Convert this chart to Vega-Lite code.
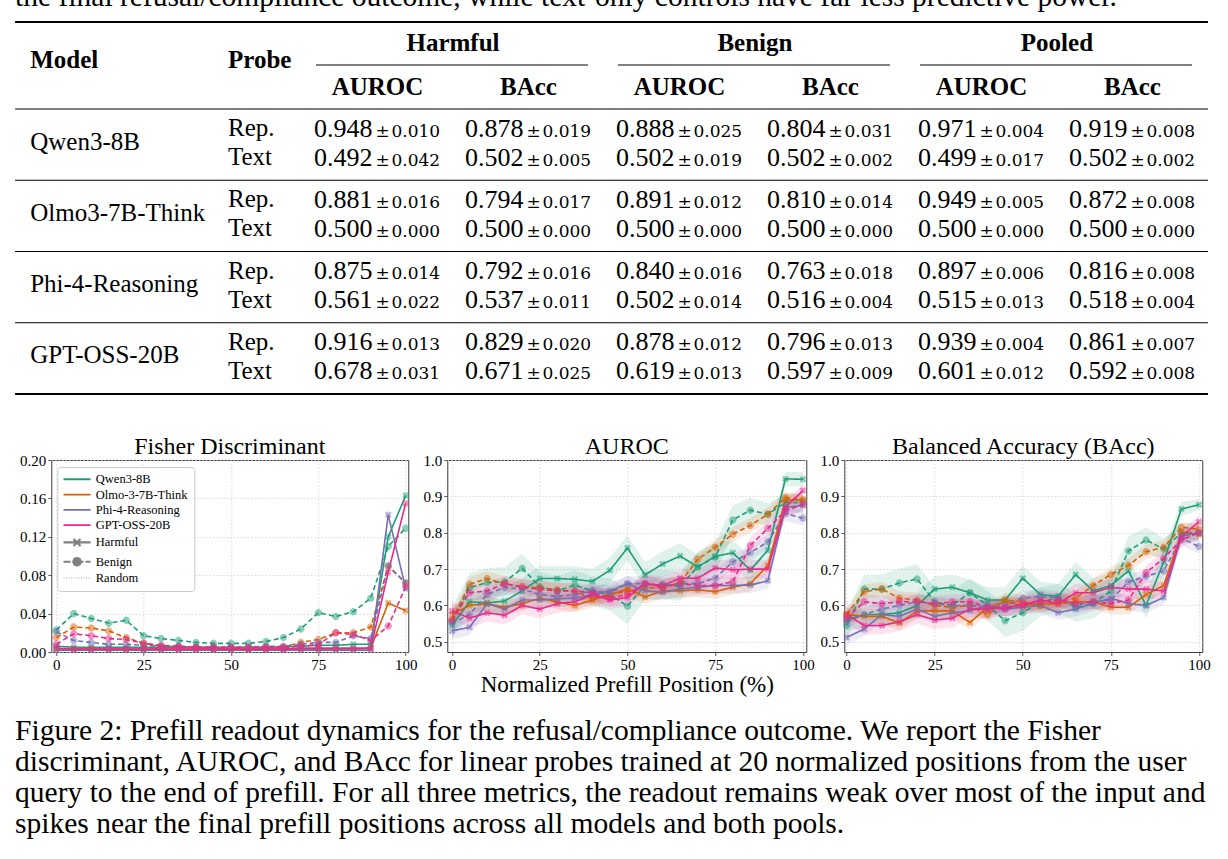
{
"$schema":"https://vega.github.io/schema/vega-lite/v6.json",
"background":"white",
"padding":0,
"spacing":0,
"center":true,
"resolve":{"scale":{"color":"independent","shape":"independent","strokeDash":"independent"},"legend":{"color":"independent"}},
"config":{
 "view":{"stroke":null},
 "font":"Liberation Serif",
 "axisBand":{"disable":true},
 "axis":{"labelFont":"Liberation Serif","labelFontSize":15,"labelColor":"#000","tickColor":"#333","tickSize":3.5,"tickWidth":0.8,"labelPadding":2,"domain":false,"gridColor":"#cfcfcf","gridDash":[1.5,2],"gridWidth":0.8,"titleFont":"Liberation Serif","titleFontSize":23,"titleFontWeight":"normal","titleColor":"#000","titlePadding":1,"labelOverlap":false},
 "title":{"font":"Liberation Serif","fontSize":24,"fontWeight":"normal","color":"#000","offset":4,"baseline":"alphabetic","frame":"group"}
},
"datasets":{
 "prev":[{"t":"the final refusal/compliance outcome, while text-only controls have far less predictive power."}],
 "groups":[{"g":"Harmful","c1":"HA","c2":"HB"},{"g":"Benign","c1":"BA","c2":"BB"},{"g":"Pooled","c1":"PA","c2":"PB"}],
 "metrics":[{"t":"AUROC","col":"HA"},{"t":"BAcc","col":"HB"},{"t":"AUROC","col":"BA"},{"t":"BAcc","col":"BB"},{"t":"AUROC","col":"PA"},{"t":"BAcc","col":"PB"}],
 "models":[{"model":"Qwen3-8B"},{"model":"Olmo3-7B-Think"},{"model":"Phi-4-Reasoning"},{"model":"GPT-OSS-20B"}],
 "probes":[{"model":"Qwen3-8B","probe":"Rep."},{"model":"Qwen3-8B","probe":"Text"},{"model":"Olmo3-7B-Think","probe":"Rep."},{"model":"Olmo3-7B-Think","probe":"Text"},{"model":"Phi-4-Reasoning","probe":"Rep."},{"model":"Phi-4-Reasoning","probe":"Text"},{"model":"GPT-OSS-20B","probe":"Rep."},{"model":"GPT-OSS-20B","probe":"Text"}],
 "cells":[
  {"model":"Qwen3-8B","probe":"Rep.","col":"HA","v":0.948,"sd":0.010},{"model":"Qwen3-8B","probe":"Rep.","col":"HB","v":0.878,"sd":0.019},{"model":"Qwen3-8B","probe":"Rep.","col":"BA","v":0.888,"sd":0.025},{"model":"Qwen3-8B","probe":"Rep.","col":"BB","v":0.804,"sd":0.031},{"model":"Qwen3-8B","probe":"Rep.","col":"PA","v":0.971,"sd":0.004},{"model":"Qwen3-8B","probe":"Rep.","col":"PB","v":0.919,"sd":0.008},
  {"model":"Qwen3-8B","probe":"Text","col":"HA","v":0.492,"sd":0.042},{"model":"Qwen3-8B","probe":"Text","col":"HB","v":0.502,"sd":0.005},{"model":"Qwen3-8B","probe":"Text","col":"BA","v":0.502,"sd":0.019},{"model":"Qwen3-8B","probe":"Text","col":"BB","v":0.502,"sd":0.002},{"model":"Qwen3-8B","probe":"Text","col":"PA","v":0.499,"sd":0.017},{"model":"Qwen3-8B","probe":"Text","col":"PB","v":0.502,"sd":0.002},
  {"model":"Olmo3-7B-Think","probe":"Rep.","col":"HA","v":0.881,"sd":0.016},{"model":"Olmo3-7B-Think","probe":"Rep.","col":"HB","v":0.794,"sd":0.017},{"model":"Olmo3-7B-Think","probe":"Rep.","col":"BA","v":0.891,"sd":0.012},{"model":"Olmo3-7B-Think","probe":"Rep.","col":"BB","v":0.810,"sd":0.014},{"model":"Olmo3-7B-Think","probe":"Rep.","col":"PA","v":0.949,"sd":0.005},{"model":"Olmo3-7B-Think","probe":"Rep.","col":"PB","v":0.872,"sd":0.008},
  {"model":"Olmo3-7B-Think","probe":"Text","col":"HA","v":0.500,"sd":0.000},{"model":"Olmo3-7B-Think","probe":"Text","col":"HB","v":0.500,"sd":0.000},{"model":"Olmo3-7B-Think","probe":"Text","col":"BA","v":0.500,"sd":0.000},{"model":"Olmo3-7B-Think","probe":"Text","col":"BB","v":0.500,"sd":0.000},{"model":"Olmo3-7B-Think","probe":"Text","col":"PA","v":0.500,"sd":0.000},{"model":"Olmo3-7B-Think","probe":"Text","col":"PB","v":0.500,"sd":0.000},
  {"model":"Phi-4-Reasoning","probe":"Rep.","col":"HA","v":0.875,"sd":0.014},{"model":"Phi-4-Reasoning","probe":"Rep.","col":"HB","v":0.792,"sd":0.016},{"model":"Phi-4-Reasoning","probe":"Rep.","col":"BA","v":0.840,"sd":0.016},{"model":"Phi-4-Reasoning","probe":"Rep.","col":"BB","v":0.763,"sd":0.018},{"model":"Phi-4-Reasoning","probe":"Rep.","col":"PA","v":0.897,"sd":0.006},{"model":"Phi-4-Reasoning","probe":"Rep.","col":"PB","v":0.816,"sd":0.008},
  {"model":"Phi-4-Reasoning","probe":"Text","col":"HA","v":0.561,"sd":0.022},{"model":"Phi-4-Reasoning","probe":"Text","col":"HB","v":0.537,"sd":0.011},{"model":"Phi-4-Reasoning","probe":"Text","col":"BA","v":0.502,"sd":0.014},{"model":"Phi-4-Reasoning","probe":"Text","col":"BB","v":0.516,"sd":0.004},{"model":"Phi-4-Reasoning","probe":"Text","col":"PA","v":0.515,"sd":0.013},{"model":"Phi-4-Reasoning","probe":"Text","col":"PB","v":0.518,"sd":0.004},
  {"model":"GPT-OSS-20B","probe":"Rep.","col":"HA","v":0.916,"sd":0.013},{"model":"GPT-OSS-20B","probe":"Rep.","col":"HB","v":0.829,"sd":0.020},{"model":"GPT-OSS-20B","probe":"Rep.","col":"BA","v":0.878,"sd":0.012},{"model":"GPT-OSS-20B","probe":"Rep.","col":"BB","v":0.796,"sd":0.013},{"model":"GPT-OSS-20B","probe":"Rep.","col":"PA","v":0.939,"sd":0.004},{"model":"GPT-OSS-20B","probe":"Rep.","col":"PB","v":0.861,"sd":0.007},
  {"model":"GPT-OSS-20B","probe":"Text","col":"HA","v":0.678,"sd":0.031},{"model":"GPT-OSS-20B","probe":"Text","col":"HB","v":0.671,"sd":0.025},{"model":"GPT-OSS-20B","probe":"Text","col":"BA","v":0.619,"sd":0.013},{"model":"GPT-OSS-20B","probe":"Text","col":"BB","v":0.597,"sd":0.009},{"model":"GPT-OSS-20B","probe":"Text","col":"PA","v":0.601,"sd":0.012},{"model":"GPT-OSS-20B","probe":"Text","col":"PB","v":0.592,"sd":0.008}
 ],
 "caption":[
  {"n":"1","t":"Figure 2: Prefill readout dynamics for the refusal/compliance outcome.  We report the Fisher"},
  {"n":"2","t":"discriminant, AUROC, and BAcc for linear probes trained at 20 normalized positions from the user"},
  {"n":"3","t":"query to the end of prefill. For all three metrics, the readout remains weak over most of the input and"},
  {"n":"4","t":"spikes near the final prefill positions across all models and both pools."}
 ],
 "fisher":[
  {"m":"Q","p":"H","x":0,"v":0.006},{"m":"Q","p":"H","x":5,"v":0.005},{"m":"Q","p":"H","x":10,"v":0.005},{"m":"Q","p":"H","x":15,"v":0.005},{"m":"Q","p":"H","x":20,"v":0.005},{"m":"Q","p":"H","x":25,"v":0.005},{"m":"Q","p":"H","x":30,"v":0.005},{"m":"Q","p":"H","x":35,"v":0.005},{"m":"Q","p":"H","x":40,"v":0.005},{"m":"Q","p":"H","x":45,"v":0.005},{"m":"Q","p":"H","x":50,"v":0.005},{"m":"Q","p":"H","x":55,"v":0.005},{"m":"Q","p":"H","x":60,"v":0.005},{"m":"Q","p":"H","x":65,"v":0.005},{"m":"Q","p":"H","x":70,"v":0.006},{"m":"Q","p":"H","x":75,"v":0.007},{"m":"Q","p":"H","x":80,"v":0.007},{"m":"Q","p":"H","x":85,"v":0.008},{"m":"Q","p":"H","x":90,"v":0.008},{"m":"Q","p":"H","x":95,"v":0.12},{"m":"Q","p":"H","x":100,"v":0.163},
  {"m":"Q","p":"B","x":0,"v":0.023},{"m":"Q","p":"B","x":5,"v":0.04},{"m":"Q","p":"B","x":10,"v":0.035},{"m":"Q","p":"B","x":15,"v":0.03},{"m":"Q","p":"B","x":20,"v":0.033},{"m":"Q","p":"B","x":25,"v":0.017},{"m":"Q","p":"B","x":30,"v":0.014},{"m":"Q","p":"B","x":35,"v":0.012},{"m":"Q","p":"B","x":40,"v":0.01},{"m":"Q","p":"B","x":45,"v":0.009},{"m":"Q","p":"B","x":50,"v":0.009},{"m":"Q","p":"B","x":55,"v":0.009},{"m":"Q","p":"B","x":60,"v":0.011},{"m":"Q","p":"B","x":65,"v":0.015},{"m":"Q","p":"B","x":70,"v":0.024},{"m":"Q","p":"B","x":75,"v":0.041},{"m":"Q","p":"B","x":80,"v":0.037},{"m":"Q","p":"B","x":85,"v":0.042},{"m":"Q","p":"B","x":90,"v":0.056},{"m":"Q","p":"B","x":95,"v":0.11},{"m":"Q","p":"B","x":100,"v":0.129},
  {"m":"O","p":"H","x":0,"v":0.003},{"m":"O","p":"H","x":5,"v":0.003},{"m":"O","p":"H","x":10,"v":0.003},{"m":"O","p":"H","x":15,"v":0.003},{"m":"O","p":"H","x":20,"v":0.003},{"m":"O","p":"H","x":25,"v":0.003},{"m":"O","p":"H","x":30,"v":0.003},{"m":"O","p":"H","x":35,"v":0.003},{"m":"O","p":"H","x":40,"v":0.003},{"m":"O","p":"H","x":45,"v":0.003},{"m":"O","p":"H","x":50,"v":0.003},{"m":"O","p":"H","x":55,"v":0.003},{"m":"O","p":"H","x":60,"v":0.003},{"m":"O","p":"H","x":65,"v":0.003},{"m":"O","p":"H","x":70,"v":0.003},{"m":"O","p":"H","x":75,"v":0.003},{"m":"O","p":"H","x":80,"v":0.003},{"m":"O","p":"H","x":85,"v":0.003},{"m":"O","p":"H","x":90,"v":0.004},{"m":"O","p":"H","x":95,"v":0.051},{"m":"O","p":"H","x":100,"v":0.043},
  {"m":"O","p":"B","x":0,"v":0.015},{"m":"O","p":"B","x":5,"v":0.026},{"m":"O","p":"B","x":10,"v":0.025},{"m":"O","p":"B","x":15,"v":0.022},{"m":"O","p":"B","x":20,"v":0.015},{"m":"O","p":"B","x":25,"v":0.009},{"m":"O","p":"B","x":30,"v":0.006},{"m":"O","p":"B","x":35,"v":0.005},{"m":"O","p":"B","x":40,"v":0.005},{"m":"O","p":"B","x":45,"v":0.004},{"m":"O","p":"B","x":50,"v":0.004},{"m":"O","p":"B","x":55,"v":0.004},{"m":"O","p":"B","x":60,"v":0.005},{"m":"O","p":"B","x":65,"v":0.005},{"m":"O","p":"B","x":70,"v":0.01},{"m":"O","p":"B","x":75,"v":0.013},{"m":"O","p":"B","x":80,"v":0.02},{"m":"O","p":"B","x":85,"v":0.02},{"m":"O","p":"B","x":90,"v":0.026},{"m":"O","p":"B","x":95,"v":0.089},{"m":"O","p":"B","x":100,"v":0.072},
  {"m":"P","p":"H","x":0,"v":0.002},{"m":"P","p":"H","x":5,"v":0.002},{"m":"P","p":"H","x":10,"v":0.002},{"m":"P","p":"H","x":15,"v":0.002},{"m":"P","p":"H","x":20,"v":0.002},{"m":"P","p":"H","x":25,"v":0.002},{"m":"P","p":"H","x":30,"v":0.002},{"m":"P","p":"H","x":35,"v":0.002},{"m":"P","p":"H","x":40,"v":0.002},{"m":"P","p":"H","x":45,"v":0.002},{"m":"P","p":"H","x":50,"v":0.002},{"m":"P","p":"H","x":55,"v":0.002},{"m":"P","p":"H","x":60,"v":0.002},{"m":"P","p":"H","x":65,"v":0.002},{"m":"P","p":"H","x":70,"v":0.002},{"m":"P","p":"H","x":75,"v":0.002},{"m":"P","p":"H","x":80,"v":0.002},{"m":"P","p":"H","x":85,"v":0.002},{"m":"P","p":"H","x":90,"v":0.002},{"m":"P","p":"H","x":95,"v":0.143},{"m":"P","p":"H","x":100,"v":0.066},
  {"m":"P","p":"B","x":0,"v":0.021},{"m":"P","p":"B","x":5,"v":0.012},{"m":"P","p":"B","x":10,"v":0.01},{"m":"P","p":"B","x":15,"v":0.008},{"m":"P","p":"B","x":20,"v":0.008},{"m":"P","p":"B","x":25,"v":0.007},{"m":"P","p":"B","x":30,"v":0.006},{"m":"P","p":"B","x":35,"v":0.006},{"m":"P","p":"B","x":40,"v":0.005},{"m":"P","p":"B","x":45,"v":0.005},{"m":"P","p":"B","x":50,"v":0.005},{"m":"P","p":"B","x":55,"v":0.005},{"m":"P","p":"B","x":60,"v":0.006},{"m":"P","p":"B","x":65,"v":0.006},{"m":"P","p":"B","x":70,"v":0.008},{"m":"P","p":"B","x":75,"v":0.01},{"m":"P","p":"B","x":80,"v":0.01},{"m":"P","p":"B","x":85,"v":0.017},{"m":"P","p":"B","x":90,"v":0.014},{"m":"P","p":"B","x":95,"v":0.09},{"m":"P","p":"B","x":100,"v":0.072},
  {"m":"G","p":"H","x":0,"v":0.004},{"m":"G","p":"H","x":5,"v":0.003},{"m":"G","p":"H","x":10,"v":0.003},{"m":"G","p":"H","x":15,"v":0.003},{"m":"G","p":"H","x":20,"v":0.003},{"m":"G","p":"H","x":25,"v":0.003},{"m":"G","p":"H","x":30,"v":0.003},{"m":"G","p":"H","x":35,"v":0.003},{"m":"G","p":"H","x":40,"v":0.003},{"m":"G","p":"H","x":45,"v":0.003},{"m":"G","p":"H","x":50,"v":0.003},{"m":"G","p":"H","x":55,"v":0.003},{"m":"G","p":"H","x":60,"v":0.003},{"m":"G","p":"H","x":65,"v":0.003},{"m":"G","p":"H","x":70,"v":0.004},{"m":"G","p":"H","x":75,"v":0.004},{"m":"G","p":"H","x":80,"v":0.004},{"m":"G","p":"H","x":85,"v":0.004},{"m":"G","p":"H","x":90,"v":0.004},{"m":"G","p":"H","x":95,"v":0.083},{"m":"G","p":"H","x":100,"v":0.155},
  {"m":"G","p":"B","x":0,"v":0.008},{"m":"G","p":"B","x":5,"v":0.019},{"m":"G","p":"B","x":10,"v":0.017},{"m":"G","p":"B","x":15,"v":0.014},{"m":"G","p":"B","x":20,"v":0.013},{"m":"G","p":"B","x":25,"v":0.009},{"m":"G","p":"B","x":30,"v":0.007},{"m":"G","p":"B","x":35,"v":0.006},{"m":"G","p":"B","x":40,"v":0.005},{"m":"G","p":"B","x":45,"v":0.005},{"m":"G","p":"B","x":50,"v":0.005},{"m":"G","p":"B","x":55,"v":0.005},{"m":"G","p":"B","x":60,"v":0.005},{"m":"G","p":"B","x":65,"v":0.005},{"m":"G","p":"B","x":70,"v":0.006},{"m":"G","p":"B","x":75,"v":0.008},{"m":"G","p":"B","x":80,"v":0.02},{"m":"G","p":"B","x":85,"v":0.018},{"m":"G","p":"B","x":90,"v":0.012},{"m":"G","p":"B","x":95,"v":0.027},{"m":"G","p":"B","x":100,"v":0.068}
 ],
 "auroc":[
  {"m":"Q","p":"H","x":0,"v":0.545,"e":0.035},{"m":"Q","p":"H","x":5,"v":0.61,"e":0.035},{"m":"Q","p":"H","x":10,"v":0.607,"e":0.035},{"m":"Q","p":"H","x":15,"v":0.612,"e":0.035},{"m":"Q","p":"H","x":20,"v":0.64,"e":0.035},{"m":"Q","p":"H","x":25,"v":0.674,"e":0.035},{"m":"Q","p":"H","x":30,"v":0.674,"e":0.035},{"m":"Q","p":"H","x":35,"v":0.672,"e":0.035},{"m":"Q","p":"H","x":40,"v":0.666,"e":0.035},{"m":"Q","p":"H","x":45,"v":0.697,"e":0.035},{"m":"Q","p":"H","x":50,"v":0.758,"e":0.035},{"m":"Q","p":"H","x":55,"v":0.684,"e":0.035},{"m":"Q","p":"H","x":60,"v":0.714,"e":0.035},{"m":"Q","p":"H","x":65,"v":0.736,"e":0.035},{"m":"Q","p":"H","x":70,"v":0.706,"e":0.035},{"m":"Q","p":"H","x":75,"v":0.735,"e":0.035},{"m":"Q","p":"H","x":80,"v":0.745,"e":0.035},{"m":"Q","p":"H","x":85,"v":0.697,"e":0.035},{"m":"Q","p":"H","x":90,"v":0.752,"e":0.035},{"m":"Q","p":"H","x":95,"v":0.948,"e":0.02},{"m":"Q","p":"H","x":100,"v":0.947,"e":0.02},
  {"m":"Q","p":"B","x":0,"v":0.556,"e":0.04},{"m":"Q","p":"B","x":5,"v":0.649,"e":0.04},{"m":"Q","p":"B","x":10,"v":0.663,"e":0.04},{"m":"Q","p":"B","x":15,"v":0.665,"e":0.04},{"m":"Q","p":"B","x":20,"v":0.702,"e":0.04},{"m":"Q","p":"B","x":25,"v":0.652,"e":0.04},{"m":"Q","p":"B","x":30,"v":0.64,"e":0.04},{"m":"Q","p":"B","x":35,"v":0.656,"e":0.04},{"m":"Q","p":"B","x":40,"v":0.64,"e":0.04},{"m":"Q","p":"B","x":45,"v":0.63,"e":0.045},{"m":"Q","p":"B","x":50,"v":0.598,"e":0.05},{"m":"Q","p":"B","x":55,"v":0.656,"e":0.04},{"m":"Q","p":"B","x":60,"v":0.658,"e":0.04},{"m":"Q","p":"B","x":65,"v":0.653,"e":0.04},{"m":"Q","p":"B","x":70,"v":0.706,"e":0.04},{"m":"Q","p":"B","x":75,"v":0.733,"e":0.04},{"m":"Q","p":"B","x":80,"v":0.835,"e":0.04},{"m":"Q","p":"B","x":85,"v":0.862,"e":0.035},{"m":"Q","p":"B","x":90,"v":0.851,"e":0.03},{"m":"Q","p":"B","x":95,"v":0.883,"e":0.025},{"m":"Q","p":"B","x":100,"v":0.883,"e":0.025},
  {"m":"O","p":"H","x":0,"v":0.575,"e":0.02},{"m":"O","p":"H","x":5,"v":0.6,"e":0.02},{"m":"O","p":"H","x":10,"v":0.605,"e":0.02},{"m":"O","p":"H","x":15,"v":0.595,"e":0.02},{"m":"O","p":"H","x":20,"v":0.605,"e":0.02},{"m":"O","p":"H","x":25,"v":0.62,"e":0.02},{"m":"O","p":"H","x":30,"v":0.61,"e":0.02},{"m":"O","p":"H","x":35,"v":0.6,"e":0.02},{"m":"O","p":"H","x":40,"v":0.615,"e":0.02},{"m":"O","p":"H","x":45,"v":0.63,"e":0.02},{"m":"O","p":"H","x":50,"v":0.645,"e":0.02},{"m":"O","p":"H","x":55,"v":0.623,"e":0.02},{"m":"O","p":"H","x":60,"v":0.64,"e":0.02},{"m":"O","p":"H","x":65,"v":0.64,"e":0.02},{"m":"O","p":"H","x":70,"v":0.643,"e":0.02},{"m":"O","p":"H","x":75,"v":0.638,"e":0.02},{"m":"O","p":"H","x":80,"v":0.65,"e":0.02},{"m":"O","p":"H","x":85,"v":0.66,"e":0.02},{"m":"O","p":"H","x":90,"v":0.71,"e":0.02},{"m":"O","p":"H","x":95,"v":0.89,"e":0.015},{"m":"O","p":"H","x":100,"v":0.89,"e":0.015},
  {"m":"O","p":"B","x":0,"v":0.56,"e":0.02},{"m":"O","p":"B","x":5,"v":0.658,"e":0.02},{"m":"O","p":"B","x":10,"v":0.674,"e":0.02},{"m":"O","p":"B","x":15,"v":0.66,"e":0.02},{"m":"O","p":"B","x":20,"v":0.652,"e":0.02},{"m":"O","p":"B","x":25,"v":0.648,"e":0.02},{"m":"O","p":"B","x":30,"v":0.643,"e":0.02},{"m":"O","p":"B","x":35,"v":0.638,"e":0.02},{"m":"O","p":"B","x":40,"v":0.62,"e":0.02},{"m":"O","p":"B","x":45,"v":0.63,"e":0.02},{"m":"O","p":"B","x":50,"v":0.64,"e":0.02},{"m":"O","p":"B","x":55,"v":0.648,"e":0.02},{"m":"O","p":"B","x":60,"v":0.65,"e":0.02},{"m":"O","p":"B","x":65,"v":0.662,"e":0.02},{"m":"O","p":"B","x":70,"v":0.727,"e":0.02},{"m":"O","p":"B","x":75,"v":0.76,"e":0.02},{"m":"O","p":"B","x":80,"v":0.796,"e":0.02},{"m":"O","p":"B","x":85,"v":0.82,"e":0.02},{"m":"O","p":"B","x":90,"v":0.851,"e":0.02},{"m":"O","p":"B","x":95,"v":0.897,"e":0.015},{"m":"O","p":"B","x":100,"v":0.89,"e":0.015},
  {"m":"P","p":"H","x":0,"v":0.53,"e":0.022},{"m":"P","p":"H","x":5,"v":0.54,"e":0.022},{"m":"P","p":"H","x":10,"v":0.605,"e":0.022},{"m":"P","p":"H","x":15,"v":0.59,"e":0.022},{"m":"P","p":"H","x":20,"v":0.615,"e":0.022},{"m":"P","p":"H","x":25,"v":0.615,"e":0.022},{"m":"P","p":"H","x":30,"v":0.618,"e":0.022},{"m":"P","p":"H","x":35,"v":0.62,"e":0.022},{"m":"P","p":"H","x":40,"v":0.63,"e":0.022},{"m":"P","p":"H","x":45,"v":0.64,"e":0.022},{"m":"P","p":"H","x":50,"v":0.66,"e":0.022},{"m":"P","p":"H","x":55,"v":0.64,"e":0.022},{"m":"P","p":"H","x":60,"v":0.636,"e":0.022},{"m":"P","p":"H","x":65,"v":0.645,"e":0.022},{"m":"P","p":"H","x":70,"v":0.65,"e":0.022},{"m":"P","p":"H","x":75,"v":0.655,"e":0.022},{"m":"P","p":"H","x":80,"v":0.655,"e":0.022},{"m":"P","p":"H","x":85,"v":0.656,"e":0.022},{"m":"P","p":"H","x":90,"v":0.668,"e":0.022},{"m":"P","p":"H","x":95,"v":0.87,"e":0.02},{"m":"P","p":"H","x":100,"v":0.875,"e":0.02},
  {"m":"P","p":"B","x":0,"v":0.55,"e":0.02},{"m":"P","p":"B","x":5,"v":0.575,"e":0.02},{"m":"P","p":"B","x":10,"v":0.63,"e":0.02},{"m":"P","p":"B","x":15,"v":0.65,"e":0.02},{"m":"P","p":"B","x":20,"v":0.645,"e":0.02},{"m":"P","p":"B","x":25,"v":0.63,"e":0.02},{"m":"P","p":"B","x":30,"v":0.625,"e":0.02},{"m":"P","p":"B","x":35,"v":0.63,"e":0.02},{"m":"P","p":"B","x":40,"v":0.64,"e":0.02},{"m":"P","p":"B","x":45,"v":0.635,"e":0.02},{"m":"P","p":"B","x":50,"v":0.66,"e":0.02},{"m":"P","p":"B","x":55,"v":0.66,"e":0.02},{"m":"P","p":"B","x":60,"v":0.655,"e":0.02},{"m":"P","p":"B","x":65,"v":0.66,"e":0.02},{"m":"P","p":"B","x":70,"v":0.66,"e":0.02},{"m":"P","p":"B","x":75,"v":0.675,"e":0.02},{"m":"P","p":"B","x":80,"v":0.72,"e":0.02},{"m":"P","p":"B","x":85,"v":0.745,"e":0.02},{"m":"P","p":"B","x":90,"v":0.775,"e":0.02},{"m":"P","p":"B","x":95,"v":0.853,"e":0.02},{"m":"P","p":"B","x":100,"v":0.84,"e":0.02},
  {"m":"G","p":"H","x":0,"v":0.585,"e":0.025},{"m":"G","p":"H","x":5,"v":0.565,"e":0.025},{"m":"G","p":"H","x":10,"v":0.58,"e":0.025},{"m":"G","p":"H","x":15,"v":0.573,"e":0.025},{"m":"G","p":"H","x":20,"v":0.6,"e":0.025},{"m":"G","p":"H","x":25,"v":0.59,"e":0.025},{"m":"G","p":"H","x":30,"v":0.605,"e":0.025},{"m":"G","p":"H","x":35,"v":0.61,"e":0.025},{"m":"G","p":"H","x":40,"v":0.63,"e":0.025},{"m":"G","p":"H","x":45,"v":0.615,"e":0.025},{"m":"G","p":"H","x":50,"v":0.622,"e":0.025},{"m":"G","p":"H","x":55,"v":0.66,"e":0.025},{"m":"G","p":"H","x":60,"v":0.655,"e":0.025},{"m":"G","p":"H","x":65,"v":0.675,"e":0.025},{"m":"G","p":"H","x":70,"v":0.675,"e":0.025},{"m":"G","p":"H","x":75,"v":0.703,"e":0.025},{"m":"G","p":"H","x":80,"v":0.698,"e":0.025},{"m":"G","p":"H","x":85,"v":0.7,"e":0.025},{"m":"G","p":"H","x":90,"v":0.7,"e":0.025},{"m":"G","p":"H","x":95,"v":0.87,"e":0.02},{"m":"G","p":"H","x":100,"v":0.916,"e":0.015},
  {"m":"G","p":"B","x":0,"v":0.56,"e":0.022},{"m":"G","p":"B","x":5,"v":0.635,"e":0.022},{"m":"G","p":"B","x":10,"v":0.64,"e":0.022},{"m":"G","p":"B","x":15,"v":0.66,"e":0.022},{"m":"G","p":"B","x":20,"v":0.65,"e":0.022},{"m":"G","p":"B","x":25,"v":0.645,"e":0.022},{"m":"G","p":"B","x":30,"v":0.64,"e":0.022},{"m":"G","p":"B","x":35,"v":0.64,"e":0.022},{"m":"G","p":"B","x":40,"v":0.635,"e":0.022},{"m":"G","p":"B","x":45,"v":0.62,"e":0.022},{"m":"G","p":"B","x":50,"v":0.63,"e":0.022},{"m":"G","p":"B","x":55,"v":0.66,"e":0.022},{"m":"G","p":"B","x":60,"v":0.65,"e":0.022},{"m":"G","p":"B","x":65,"v":0.66,"e":0.022},{"m":"G","p":"B","x":70,"v":0.655,"e":0.022},{"m":"G","p":"B","x":75,"v":0.655,"e":0.022},{"m":"G","p":"B","x":80,"v":0.665,"e":0.022},{"m":"G","p":"B","x":85,"v":0.765,"e":0.022},{"m":"G","p":"B","x":90,"v":0.812,"e":0.022},{"m":"G","p":"B","x":95,"v":0.86,"e":0.02},{"m":"G","p":"B","x":100,"v":0.878,"e":0.015}
 ],
 "bacc":[
  {"m":"Q","p":"H","x":0,"v":0.56,"e":0.03},{"m":"Q","p":"H","x":5,"v":0.575,"e":0.035},{"m":"Q","p":"H","x":10,"v":0.575,"e":0.035},{"m":"Q","p":"H","x":15,"v":0.58,"e":0.035},{"m":"Q","p":"H","x":20,"v":0.6,"e":0.035},{"m":"Q","p":"H","x":25,"v":0.645,"e":0.035},{"m":"Q","p":"H","x":30,"v":0.65,"e":0.035},{"m":"Q","p":"H","x":35,"v":0.635,"e":0.035},{"m":"Q","p":"H","x":40,"v":0.615,"e":0.035},{"m":"Q","p":"H","x":45,"v":0.615,"e":0.035},{"m":"Q","p":"H","x":50,"v":0.675,"e":0.035},{"m":"Q","p":"H","x":55,"v":0.63,"e":0.035},{"m":"Q","p":"H","x":60,"v":0.625,"e":0.035},{"m":"Q","p":"H","x":65,"v":0.685,"e":0.035},{"m":"Q","p":"H","x":70,"v":0.64,"e":0.035},{"m":"Q","p":"H","x":75,"v":0.655,"e":0.035},{"m":"Q","p":"H","x":80,"v":0.695,"e":0.035},{"m":"Q","p":"H","x":85,"v":0.6,"e":0.035},{"m":"Q","p":"H","x":90,"v":0.72,"e":0.035},{"m":"Q","p":"H","x":95,"v":0.865,"e":0.02},{"m":"Q","p":"H","x":100,"v":0.877,"e":0.015},
  {"m":"Q","p":"B","x":0,"v":0.545,"e":0.035},{"m":"Q","p":"B","x":5,"v":0.645,"e":0.04},{"m":"Q","p":"B","x":10,"v":0.645,"e":0.04},{"m":"Q","p":"B","x":15,"v":0.662,"e":0.04},{"m":"Q","p":"B","x":20,"v":0.673,"e":0.04},{"m":"Q","p":"B","x":25,"v":0.61,"e":0.04},{"m":"Q","p":"B","x":30,"v":0.6,"e":0.04},{"m":"Q","p":"B","x":35,"v":0.635,"e":0.04},{"m":"Q","p":"B","x":40,"v":0.6,"e":0.04},{"m":"Q","p":"B","x":45,"v":0.558,"e":0.045},{"m":"Q","p":"B","x":50,"v":0.58,"e":0.05},{"m":"Q","p":"B","x":55,"v":0.61,"e":0.04},{"m":"Q","p":"B","x":60,"v":0.62,"e":0.04},{"m":"Q","p":"B","x":65,"v":0.595,"e":0.04},{"m":"Q","p":"B","x":70,"v":0.605,"e":0.04},{"m":"Q","p":"B","x":75,"v":0.64,"e":0.04},{"m":"Q","p":"B","x":80,"v":0.75,"e":0.04},{"m":"Q","p":"B","x":85,"v":0.78,"e":0.035},{"m":"Q","p":"B","x":90,"v":0.755,"e":0.03},{"m":"Q","p":"B","x":95,"v":0.8,"e":0.025},{"m":"Q","p":"B","x":100,"v":0.8,"e":0.025},
  {"m":"O","p":"H","x":0,"v":0.575,"e":0.02},{"m":"O","p":"H","x":5,"v":0.57,"e":0.02},{"m":"O","p":"H","x":10,"v":0.57,"e":0.02},{"m":"O","p":"H","x":15,"v":0.552,"e":0.02},{"m":"O","p":"H","x":20,"v":0.585,"e":0.02},{"m":"O","p":"H","x":25,"v":0.585,"e":0.02},{"m":"O","p":"H","x":30,"v":0.585,"e":0.02},{"m":"O","p":"H","x":35,"v":0.553,"e":0.02},{"m":"O","p":"H","x":40,"v":0.595,"e":0.02},{"m":"O","p":"H","x":45,"v":0.61,"e":0.02},{"m":"O","p":"H","x":50,"v":0.6,"e":0.02},{"m":"O","p":"H","x":55,"v":0.605,"e":0.02},{"m":"O","p":"H","x":60,"v":0.605,"e":0.02},{"m":"O","p":"H","x":65,"v":0.61,"e":0.02},{"m":"O","p":"H","x":70,"v":0.61,"e":0.02},{"m":"O","p":"H","x":75,"v":0.595,"e":0.02},{"m":"O","p":"H","x":80,"v":0.595,"e":0.02},{"m":"O","p":"H","x":85,"v":0.63,"e":0.02},{"m":"O","p":"H","x":90,"v":0.655,"e":0.02},{"m":"O","p":"H","x":95,"v":0.8,"e":0.015},{"m":"O","p":"H","x":100,"v":0.795,"e":0.015},
  {"m":"O","p":"B","x":0,"v":0.575,"e":0.02},{"m":"O","p":"B","x":5,"v":0.638,"e":0.02},{"m":"O","p":"B","x":10,"v":0.645,"e":0.02},{"m":"O","p":"B","x":15,"v":0.62,"e":0.02},{"m":"O","p":"B","x":20,"v":0.615,"e":0.02},{"m":"O","p":"B","x":25,"v":0.6,"e":0.02},{"m":"O","p":"B","x":30,"v":0.595,"e":0.02},{"m":"O","p":"B","x":35,"v":0.6,"e":0.02},{"m":"O","p":"B","x":40,"v":0.575,"e":0.02},{"m":"O","p":"B","x":45,"v":0.615,"e":0.02},{"m":"O","p":"B","x":50,"v":0.61,"e":0.02},{"m":"O","p":"B","x":55,"v":0.6,"e":0.02},{"m":"O","p":"B","x":60,"v":0.61,"e":0.02},{"m":"O","p":"B","x":65,"v":0.62,"e":0.02},{"m":"O","p":"B","x":70,"v":0.655,"e":0.02},{"m":"O","p":"B","x":75,"v":0.685,"e":0.02},{"m":"O","p":"B","x":80,"v":0.71,"e":0.02},{"m":"O","p":"B","x":85,"v":0.748,"e":0.02},{"m":"O","p":"B","x":90,"v":0.76,"e":0.02},{"m":"O","p":"B","x":95,"v":0.815,"e":0.015},{"m":"O","p":"B","x":100,"v":0.81,"e":0.015},
  {"m":"P","p":"H","x":0,"v":0.512,"e":0.02},{"m":"P","p":"H","x":5,"v":0.535,"e":0.02},{"m":"P","p":"H","x":10,"v":0.575,"e":0.02},{"m":"P","p":"H","x":15,"v":0.57,"e":0.02},{"m":"P","p":"H","x":20,"v":0.59,"e":0.02},{"m":"P","p":"H","x":25,"v":0.57,"e":0.02},{"m":"P","p":"H","x":30,"v":0.58,"e":0.02},{"m":"P","p":"H","x":35,"v":0.585,"e":0.02},{"m":"P","p":"H","x":40,"v":0.6,"e":0.02},{"m":"P","p":"H","x":45,"v":0.59,"e":0.02},{"m":"P","p":"H","x":50,"v":0.595,"e":0.02},{"m":"P","p":"H","x":55,"v":0.6,"e":0.02},{"m":"P","p":"H","x":60,"v":0.58,"e":0.02},{"m":"P","p":"H","x":65,"v":0.59,"e":0.02},{"m":"P","p":"H","x":70,"v":0.605,"e":0.02},{"m":"P","p":"H","x":75,"v":0.62,"e":0.02},{"m":"P","p":"H","x":80,"v":0.605,"e":0.02},{"m":"P","p":"H","x":85,"v":0.6,"e":0.02},{"m":"P","p":"H","x":90,"v":0.622,"e":0.02},{"m":"P","p":"H","x":95,"v":0.79,"e":0.02},{"m":"P","p":"H","x":100,"v":0.8,"e":0.02},
  {"m":"P","p":"B","x":0,"v":0.555,"e":0.02},{"m":"P","p":"B","x":5,"v":0.575,"e":0.02},{"m":"P","p":"B","x":10,"v":0.59,"e":0.02},{"m":"P","p":"B","x":15,"v":0.6,"e":0.02},{"m":"P","p":"B","x":20,"v":0.61,"e":0.02},{"m":"P","p":"B","x":25,"v":0.605,"e":0.02},{"m":"P","p":"B","x":30,"v":0.6,"e":0.02},{"m":"P","p":"B","x":35,"v":0.6,"e":0.02},{"m":"P","p":"B","x":40,"v":0.595,"e":0.02},{"m":"P","p":"B","x":45,"v":0.6,"e":0.02},{"m":"P","p":"B","x":50,"v":0.62,"e":0.02},{"m":"P","p":"B","x":55,"v":0.625,"e":0.02},{"m":"P","p":"B","x":60,"v":0.62,"e":0.02},{"m":"P","p":"B","x":65,"v":0.6,"e":0.02},{"m":"P","p":"B","x":70,"v":0.61,"e":0.02},{"m":"P","p":"B","x":75,"v":0.615,"e":0.02},{"m":"P","p":"B","x":80,"v":0.665,"e":0.02},{"m":"P","p":"B","x":85,"v":0.68,"e":0.02},{"m":"P","p":"B","x":90,"v":0.695,"e":0.02},{"m":"P","p":"B","x":95,"v":0.785,"e":0.02},{"m":"P","p":"B","x":100,"v":0.762,"e":0.02},
  {"m":"G","p":"H","x":0,"v":0.575,"e":0.025},{"m":"G","p":"H","x":5,"v":0.545,"e":0.025},{"m":"G","p":"H","x":10,"v":0.545,"e":0.025},{"m":"G","p":"H","x":15,"v":0.555,"e":0.025},{"m":"G","p":"H","x":20,"v":0.575,"e":0.025},{"m":"G","p":"H","x":25,"v":0.56,"e":0.025},{"m":"G","p":"H","x":30,"v":0.565,"e":0.025},{"m":"G","p":"H","x":35,"v":0.59,"e":0.025},{"m":"G","p":"H","x":40,"v":0.59,"e":0.025},{"m":"G","p":"H","x":45,"v":0.595,"e":0.025},{"m":"G","p":"H","x":50,"v":0.6,"e":0.025},{"m":"G","p":"H","x":55,"v":0.615,"e":0.025},{"m":"G","p":"H","x":60,"v":0.605,"e":0.025},{"m":"G","p":"H","x":65,"v":0.635,"e":0.025},{"m":"G","p":"H","x":70,"v":0.635,"e":0.025},{"m":"G","p":"H","x":75,"v":0.65,"e":0.025},{"m":"G","p":"H","x":80,"v":0.645,"e":0.025},{"m":"G","p":"H","x":85,"v":0.645,"e":0.025},{"m":"G","p":"H","x":90,"v":0.64,"e":0.025},{"m":"G","p":"H","x":95,"v":0.79,"e":0.02},{"m":"G","p":"H","x":100,"v":0.83,"e":0.015},
  {"m":"G","p":"B","x":0,"v":0.565,"e":0.02},{"m":"G","p":"B","x":5,"v":0.61,"e":0.02},{"m":"G","p":"B","x":10,"v":0.605,"e":0.02},{"m":"G","p":"B","x":15,"v":0.61,"e":0.02},{"m":"G","p":"B","x":20,"v":0.61,"e":0.02},{"m":"G","p":"B","x":25,"v":0.605,"e":0.02},{"m":"G","p":"B","x":30,"v":0.61,"e":0.02},{"m":"G","p":"B","x":35,"v":0.61,"e":0.02},{"m":"G","p":"B","x":40,"v":0.595,"e":0.02},{"m":"G","p":"B","x":45,"v":0.59,"e":0.02},{"m":"G","p":"B","x":50,"v":0.605,"e":0.02},{"m":"G","p":"B","x":55,"v":0.61,"e":0.02},{"m":"G","p":"B","x":60,"v":0.615,"e":0.02},{"m":"G","p":"B","x":65,"v":0.605,"e":0.02},{"m":"G","p":"B","x":70,"v":0.61,"e":0.02},{"m":"G","p":"B","x":75,"v":0.605,"e":0.02},{"m":"G","p":"B","x":80,"v":0.615,"e":0.02},{"m":"G","p":"B","x":85,"v":0.69,"e":0.02},{"m":"G","p":"B","x":90,"v":0.73,"e":0.02},{"m":"G","p":"B","x":95,"v":0.78,"e":0.02},{"m":"G","p":"B","x":100,"v":0.8,"e":0.015}
 ]
},
"vconcat":[
 {"width":1262,"height":21,"data":{"name":"prev"},
  "mark":{"type":"text","align":"left","baseline":"alphabetic","dy":-4.5,"fontSize":29.5,"font":"Liberation Serif","color":"#000","clip":true},
  "encoding":{"x":{"datum":"Model","type":"nominal","bandPosition":0.1,"scale":{"type":"band","domain":["Model","Probe","HA","HB","BA","BB","PA","PB"],"paddingInner":0,"paddingOuter":0.179,"align":0}},
   "y":{"datum":"p","type":"nominal","scale":{"type":"band","domain":["p"],"paddingInner":0,"paddingOuter":0}},
   "text":{"field":"t"}}},
 {"width":1262,"height":86,
  "layer":[
   {"data":{"values":[{}]},"mark":{"type":"rule","strokeWidth":2,"color":"#000"},
    "encoding":{"x":{"datum":"Model","type":"nominal","bandPosition":0.1,"scale":{"type":"band","domain":["Model","Probe","HA","HB","BA","BB","PA","PB"],"paddingInner":0,"paddingOuter":0.179,"align":0}},"x2":{"datum":"PB","bandPosition":1},
     "y":{"datum":"top","type":"nominal","bandPosition":0,"scale":{"type":"band","domain":["top","bot"],"paddingInner":0,"paddingOuter":0}}}},
   {"data":{"name":"groups"},"mark":{"type":"text","fontSize":25,"fontWeight":"bold","font":"Liberation Serif","color":"#000","baseline":"alphabetic","dy":7},
    "encoding":{"x":{"field":"c1","type":"nominal","bandPosition":1},"y":{"datum":"top","type":"nominal"},"text":{"field":"g"}}},
   {"data":{"name":"groups"},"mark":{"type":"rule","strokeWidth":1,"color":"#000"},
    "encoding":{"x":{"field":"c1","type":"nominal","bandPosition":0.093},"x2":{"field":"c2","bandPosition":0.894},"y":{"datum":"bot","type":"nominal","bandPosition":0}}},
   {"data":{"name":"metrics"},"mark":{"type":"text","fontSize":25,"fontWeight":"bold","font":"Liberation Serif","color":"#000","baseline":"alphabetic","dy":8},
    "encoding":{"x":{"field":"col","type":"nominal"},"y":{"datum":"bot","type":"nominal"},"text":{"field":"t"}}},
   {"data":{"values":[{"t":"Model"}]},"mark":{"type":"text","align":"left","fontSize":25,"fontWeight":"bold","font":"Liberation Serif","color":"#000","baseline":"alphabetic","dy":3},
    "encoding":{"x":{"datum":"Model","type":"nominal","bandPosition":0.2},"y":{"datum":"bot","type":"nominal","bandPosition":0},"text":{"field":"t"}}},
   {"data":{"values":[{"t":"Probe"}]},"mark":{"type":"text","align":"left","fontSize":25,"fontWeight":"bold","font":"Liberation Serif","color":"#000","baseline":"alphabetic","dy":3},
    "encoding":{"x":{"datum":"Probe","type":"nominal","bandPosition":0.51},"y":{"datum":"bot","type":"nominal","bandPosition":0},"text":{"field":"t"}}}
  ]},
 {"width":1262,"height":325,
  "layer":[
   {"data":{"name":"models"},"mark":{"type":"rule","strokeWidth":1.2,"color":"#000"},
    "encoding":{"x":{"datum":"Model","type":"nominal","bandPosition":0.1,"scale":{"type":"band","domain":["Model","Probe","HA","HB","BA","BB","PA","PB"],"paddingInner":0,"paddingOuter":0.179,"align":0}},"x2":{"datum":"PB","bandPosition":1},
     "y":{"field":"model","type":"nominal","bandPosition":0,"scale":{"type":"band","domain":["Qwen3-8B","Olmo3-7B-Think","Phi-4-Reasoning","GPT-OSS-20B"],"paddingInner":0,"paddingOuter":0.2807,"align":0}}}},
   {"data":{"values":[{}]},"mark":{"type":"rule","strokeWidth":2,"color":"#000"},
    "encoding":{"x":{"datum":"Model","type":"nominal","bandPosition":0.1},"x2":{"datum":"PB","bandPosition":1},"y":{"datum":"GPT-OSS-20B","type":"nominal","bandPosition":1}}},
   {"data":{"name":"models"},"mark":{"type":"text","align":"left","baseline":"alphabetic","dy":5,"fontSize":25,"font":"Liberation Serif","color":"#000"},
    "encoding":{"x":{"datum":"Model","type":"nominal","bandPosition":0.2},"y":{"field":"model","type":"nominal"},"text":{"field":"model"}}},
   {"data":{"name":"probes"},"mark":{"type":"text","align":"left","baseline":"alphabetic","dy":6,"fontSize":25,"font":"Liberation Serif","color":"#000"},
    "encoding":{"x":{"datum":"Probe","type":"nominal","bandPosition":0.51},"y":{"field":"model","type":"nominal"},"yOffset":{"field":"probe","type":"nominal","scale":{"type":"band","domain":["Rep.","Text"],"paddingInner":0,"paddingOuter":0.224}},"text":{"field":"probe"}}},
   {"data":{"name":"cells"},"mark":{"type":"text","align":"right","baseline":"alphabetic","dx":-5,"dy":6.5,"fontSize":26,"font":"Liberation Serif","color":"#000"},
    "encoding":{"x":{"field":"col","type":"nominal"},"y":{"field":"model","type":"nominal"},"yOffset":{"field":"probe","type":"nominal"},"text":{"field":"v","type":"quantitative","format":".3f"}}},
   {"data":{"name":"cells"},"mark":{"type":"text","align":"left","baseline":"alphabetic","dx":-2,"dy":6.5,"fontSize":17,"font":"DejaVu Serif","color":"#000","text":"±"},
    "encoding":{"x":{"field":"col","type":"nominal"},"y":{"field":"model","type":"nominal"},"yOffset":{"field":"probe","type":"nominal"}}},
   {"data":{"name":"cells"},"mark":{"type":"text","align":"left","baseline":"alphabetic","dx":14,"dy":6.5,"fontSize":17,"font":"DejaVu Serif","color":"#000"},
    "encoding":{"x":{"field":"col","type":"nominal"},"y":{"field":"model","type":"nominal"},"yOffset":{"field":"probe","type":"nominal"},"text":{"field":"sd","type":"quantitative","format":".3f"}}}
  ]},
 {"hconcat":[
   {"width":357,"height":192,"view":{"stroke":"#3a3a3a","strokeWidth":1},"title":{"text":"Fisher Discriminant","font":"Liberation Serif","fontSize":24,"fontWeight":"normal","frame":"group","dy":10},"data":{"name":"fisher"},
    "encoding":{"x":{"field":"x","type":"quantitative","scale":{"domain":[-1.43,100.74],"nice":false,"zero":false},"axis":{"values":[0,25,50,75,100],"title":null,"labelFont":"Liberation Serif","labelFontSize":15,"labelColor":"#000","labelOverlap":false,"tickSize":3.5,"labelPadding":2}},
       "y":{"field":"v","type":"quantitative","scale":{"domain":[0,0.2],"nice":false,"zero":false},"axis":{"values":[0,0.04,0.08,0.12,0.16,0.2],"format":".2f","title":null,"labelFont":"Liberation Serif","labelFontSize":15,"labelColor":"#000","labelOverlap":false,"tickSize":3.5,"labelPadding":2}}},
    "layer":[
     {"mark":{"type":"line","strokeWidth":1.6},
      "encoding":{
       "color":{"field":"m","type":"nominal","scale":{"domain":["Q","O","P","G","H","B","R"],"range":["#1b9e77","#d95f02","#7570b3","#e7298a","#808080","#808080","#aaaaaa"]},
        "legend":{"orient":"none","legendX":6,"legendY":7,"title":null,"labelExpr":"datum.value==='Q'?'Qwen3-8B':datum.value==='O'?'Olmo-3-7B-Think':datum.value==='P'?'Phi-4-Reasoning':datum.value==='G'?'GPT-OSS-20B':datum.value==='H'?'Harmful':datum.value==='B'?'Benign':'Random'",
         "labelFont":"Liberation Serif","labelFontSize":12.5,"labelColor":"#000","labelOffset":20,"labelLimit":300,"symbolType":"stroke","symbolSize":100,"symbolStrokeWidth":1.8,"rowPadding":2.3,"padding":6,"strokeColor":"#cccccc","fillColor":"rgba(255,255,255,0.85)","cornerRadius":3,
         "encode":{"symbols":{"update":{
          "shape":{"signal":"datum.value==='H'?'M-1.2,0H4.2M0.8,-0.7L2.2,0.7M0.8,0.7L2.2,-0.7':datum.value==='B'?'M-1.2,0H0.2M2.3,0H2.8M3.2,0H4.2M2.3,0L2.07,0.57L1.5,0.8L0.93,0.57L0.7,0L0.93,-0.57L1.5,-0.8L2.07,-0.57Z':'M-1.2,0H4.2'"},
          "strokeDash":{"signal":"datum.value==='R'?[1,1.5]:[1,0]"},
          "strokeWidth":{"signal":"datum.value==='R'?1:datum.value==='H'?2.2:1.8"},
          "fill":{"signal":"datum.value==='B'?'#9a9a9a':'transparent'"},
          "opacity":{"value":1}}}}}},
       "strokeDash":{"field":"p","type":"nominal","scale":{"domain":["H","B"],"range":[[1,0],[5,3]]},"legend":null},
       "detail":{"field":"p"}}},
     {"mark":{"type":"point","filled":true,"opacity":0.5,"size":50,"angle":45},
      "encoding":{"color":{"field":"m","type":"nominal","legend":null},
       "shape":{"field":"p","type":"nominal","scale":{"domain":["H","B"],"range":["cross","circle"]},"legend":null}}}
    ]},
   {"width":359,"height":192,"view":{"stroke":"#3a3a3a","strokeWidth":1},"title":{"text":"AUROC","font":"Liberation Serif","fontSize":24,"fontWeight":"normal","frame":"group","dy":10},
    "encoding":{"x":{"field":"x","type":"quantitative","scale":{"domain":[-1.34,100.94],"nice":false,"zero":false},"axis":{"values":[0,25,50,75,100],"title":"Normalized Prefill Position (%)","titleFont":"Liberation Serif","titleFontSize":23,"titleFontWeight":"normal","titleColor":"#000","titlePadding":1,"labelFont":"Liberation Serif","labelFontSize":15,"labelColor":"#000","labelOverlap":false,"tickSize":3.5,"labelPadding":2}},
       "y":{"field":"v","type":"quantitative","scale":{"domain":[0.472,1.0],"nice":false,"zero":false},"axis":{"values":[0.5,0.6,0.7,0.8,0.9,1.0],"format":".1f","title":null,"labelFont":"Liberation Serif","labelFontSize":15,"labelColor":"#000","labelOverlap":false,"tickSize":3.5,"labelPadding":2}}},
    "layer":[
     {"data":{"name":"auroc"},"mark":{"type":"errorband","opacity":0.13},
      "encoding":{"yError":{"field":"e"},
       "color":{"field":"m","type":"nominal","scale":{"domain":["Q","O","P","G","H","B","R"],"range":["#1b9e77","#d95f02","#7570b3","#e7298a","#808080","#808080","#aaaaaa"]},"legend":null},
       "detail":{"field":"p"}}},
     {"data":{"values":[{}]},"mark":{"type":"rule","color":"#555","strokeWidth":1,"strokeDash":[1.5,2]},"encoding":{"x":{"datum":-1.34,"type":"quantitative"},"x2":{"datum":100.94},"y":{"datum":0.5,"type":"quantitative"}}},
     {"data":{"name":"auroc"},"mark":{"type":"line","strokeWidth":1.6},
      "encoding":{"color":{"field":"m","type":"nominal","legend":null},
       "strokeDash":{"field":"p","type":"nominal","scale":{"domain":["H","B"],"range":[[1,0],[5,3]]},"legend":null},"detail":{"field":"p"}}},
     {"data":{"name":"auroc"},"mark":{"type":"point","filled":true,"opacity":0.5,"size":50,"angle":45},
      "encoding":{"color":{"field":"m","type":"nominal","legend":null},
       "shape":{"field":"p","type":"nominal","scale":{"domain":["H","B"],"range":["cross","circle"]},"legend":null}}}
    ]},
   {"width":358,"height":192,"view":{"stroke":"#3a3a3a","strokeWidth":1},"title":{"text":"Balanced Accuracy (BAcc)","font":"Liberation Serif","fontSize":24,"fontWeight":"normal","frame":"group","dy":10},
    "encoding":{"x":{"field":"x","type":"quantitative","scale":{"domain":[-0.65,100.94],"nice":false,"zero":false},"axis":{"values":[0,25,50,75,100],"title":null,"labelFont":"Liberation Serif","labelFontSize":15,"labelColor":"#000","labelOverlap":false,"tickSize":3.5,"labelPadding":2}},
       "y":{"field":"v","type":"quantitative","scale":{"domain":[0.472,1.0],"nice":false,"zero":false},"axis":{"values":[0.5,0.6,0.7,0.8,0.9,1.0],"format":".1f","title":null,"labelFont":"Liberation Serif","labelFontSize":15,"labelColor":"#000","labelOverlap":false,"tickSize":3.5,"labelPadding":2}}},
    "layer":[
     {"data":{"name":"bacc"},"mark":{"type":"errorband","opacity":0.13},
      "encoding":{"yError":{"field":"e"},
       "color":{"field":"m","type":"nominal","scale":{"domain":["Q","O","P","G","H","B","R"],"range":["#1b9e77","#d95f02","#7570b3","#e7298a","#808080","#808080","#aaaaaa"]},"legend":null},
       "detail":{"field":"p"}}},
     {"data":{"values":[{}]},"mark":{"type":"rule","color":"#555","strokeWidth":1,"strokeDash":[1.5,2]},"encoding":{"x":{"datum":-0.65,"type":"quantitative"},"x2":{"datum":100.94},"y":{"datum":0.5,"type":"quantitative"}}},
     {"data":{"name":"bacc"},"mark":{"type":"line","strokeWidth":1.6},
      "encoding":{"color":{"field":"m","type":"nominal","legend":null},
       "strokeDash":{"field":"p","type":"nominal","scale":{"domain":["H","B"],"range":[[1,0],[5,3]]},"legend":null},"detail":{"field":"p"}}},
     {"data":{"name":"bacc"},"mark":{"type":"point","filled":true,"opacity":0.5,"size":50,"angle":45},
      "encoding":{"color":{"field":"m","type":"nominal","legend":null},
       "shape":{"field":"p","type":"nominal","scale":{"domain":["H","B"],"range":["cross","circle"]},"legend":null}}}
    ]}
  ],
  "spacing":4,
  "resolve":{"scale":{"color":"independent","shape":"independent","strokeDash":"independent"},"legend":{"color":"independent"}}},
 {"width":1262,"height":142.5,"data":{"name":"caption"},
  "mark":{"type":"text","align":"left","baseline":"middle","fontSize":29.5,"font":"Liberation Serif","color":"#000"},
  "encoding":{"x":{"datum":"Model","type":"nominal","bandPosition":0.1,"scale":{"type":"band","domain":["Model","Probe","HA","HB","BA","BB","PA","PB"],"paddingInner":0,"paddingOuter":0.179,"align":0}},
   "y":{"field":"n","type":"nominal","scale":{"type":"band","domain":["1","2","3","4"],"paddingInner":0,"paddingOuter":0.298,"align":1}},
   "text":{"field":"t"}}}
]
}
